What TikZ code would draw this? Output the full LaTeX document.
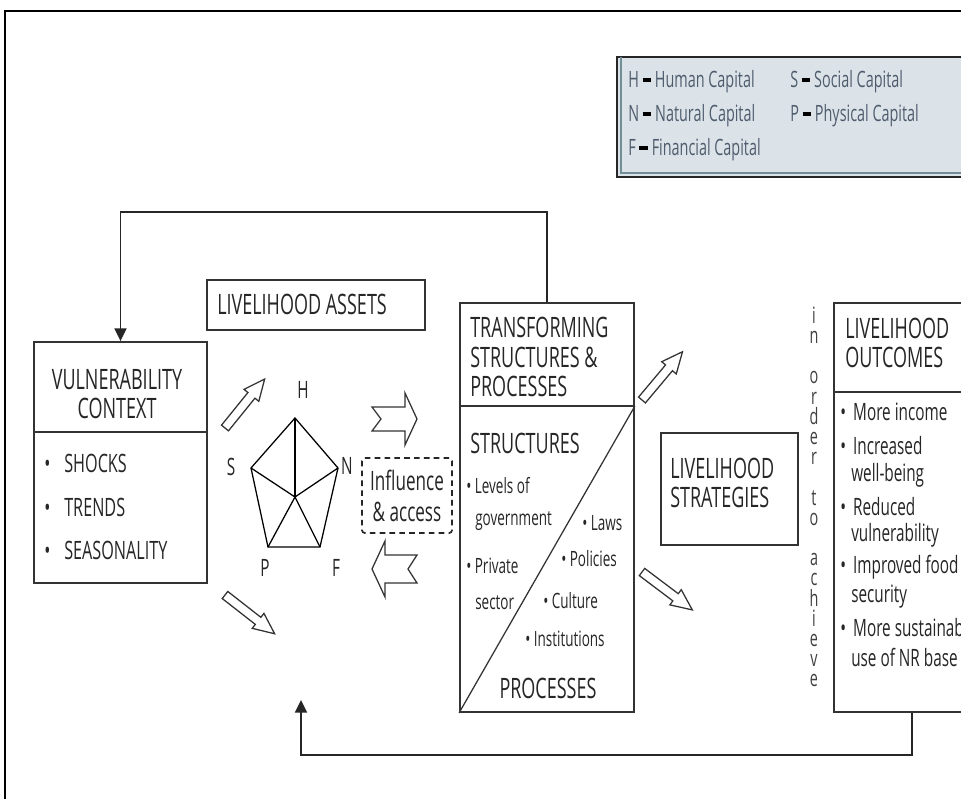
\documentclass[tikz,border=0pt]{standalone}
\usepackage{fontspec}
\setmainfont{Open Sans}[FakeStretch=0.64]
\usetikzlibrary{arrows.meta,fit}

\definecolor{keyfill}{HTML}{DCE3E8}
\definecolor{keyink}{HTML}{4E5C6E}
\definecolor{keyedge}{HTML}{6F8E95}
\newcommand{\eqbar}{\textcolor{black}{\rule[0.26em]{0.38em}{0.17em}}}

\begin{document}
\begin{tikzpicture}[
  x=0.025cm, y=-0.025cm,
  box/.style={draw=black!80, line width=1.3pt, inner sep=0pt},
  feed/.style={line width=1.2pt, draw=black!85},
  title/.style={font=\fontsize{20}{20.5}\selectfont, text=black!85, inner sep=0pt, align=left},
  bigtxt/.style={font=\fontsize{18}{21}\selectfont, text=black!85, inner sep=0pt, anchor=west},
  smalltxt/.style={font=\fontsize{15}{18}\selectfont, text=black!85, inner sep=0pt, anchor=west},
  outtxt/.style={font=\fontsize{17}{20}\selectfont, text=black!85, inner sep=0pt, anchor=west},
  keytxt/.style={font=\fontsize{16}{18}\selectfont, text=keyink, inner sep=0pt, anchor=west},
  vertex/.style={font=\fontsize{17}{20}\selectfont, text=black!85, inner sep=0pt},
  hollow/.style={draw=black!80, line width=0.9pt, fill=white, line join=miter},
]
\clip (0,0) rectangle (961,799);
\fill[white] (0,0) rectangle (961,799);

% Frame
\draw[line width=1.4pt] (5,830) -- (5,11) -- (990,11);

% Key
\draw[fill=keyfill, line width=1.6pt, draw=black!85] (617,57) rectangle (1000,177);
\draw[keyedge, line width=0.8pt] (621,57) -- (621,173) -- (1000,173);
\node[keytxt] (keyh) at (628,82) {H \eqbar{} Human Capital};
\node[keytxt] (keys) at (790,82) {S \eqbar{} Social Capital};
\node[keytxt] (keyn) at (628,116) {N \eqbar{} Natural Capital};
\node[keytxt] (keyp) at (790,116) {P \eqbar{} Physical Capital};
\node[keytxt] (keyf) at (628,150) {F \eqbar{} Financial Capital};

% Vulnerability context
\node[box, fit={(34,342) (207,583)}] (vul) {};
\draw[box] (vul.west |- 0,432) -- (vul.east |- 0,432);
\node[title, align=center] (vultitle) at (117,394) {VULNERABILITY\\CONTEXT};
\foreach \y/\t in {463/SHOCKS, 507/TRENDS, 550/SEASONALITY}
  \node[bigtxt] (vul-\y) at (44,\y) {\textbullet\hspace{0.55em}\t};

% Livelihood assets
\node[box, fit={(207,280) (425,330)}] (assets) {};
\node[title, anchor=west] (assetstitle) at (217,304) {LIVELIHOOD ASSETS};

\coordinate (pc) at (295,497);
\coordinate (ph) at (295,418);
\coordinate (pn) at (338,468);
\coordinate (pf) at (320,547);
\coordinate (pp) at (268,547);
\coordinate (ps) at (251,468);
\draw[line width=0.9pt, line join=miter] (ph) -- (pn) -- (pf) -- (pp) -- (ps) -- cycle;
\foreach \v in {ph,pn,pf,pp,ps}
  \draw[line width=0.9pt] (pc) -- (\v);
\node[vertex] (labh) at (303,390) {H};
\node[vertex] (labs) at (231,467) {S};
\node[vertex] (labn) at (347,466) {N};
\node[vertex] (labp) at (265,568) {P};
\node[vertex] (labf) at (336,568) {F};

% Hollow arrows
\foreach \x/\y/\a in {225/428/51, 225/595/-38, 642/400/50, 642/572/-37}
  \draw[hollow, shift={(\x,\y)}, rotate=\a]
    (0,-4.5) -- (42,-4.5) -- (42,-9.5) -- (63,0) -- (42,9.5) -- (42,4.5) -- (0,4.5) -- cycle;
\draw[hollow] (372,407) -- (405,407) -- (405,393) -- (417,419) -- (405,445)
  -- (405,431) -- (372,431) -- (381,419) -- cycle;
\draw[hollow] (372,569) -- (385,541) -- (385,555) -- (417,555) -- (408,569)
  -- (417,583) -- (385,583) -- (385,597) -- cycle;

\node[draw=black!85, dashed, dash pattern=on 4pt off 3pt, line width=1.2pt,
  rounded corners=2pt, fit={(362,458) (452,533)}, inner sep=0pt] (infl) {};
\node[title, font=\fontsize{19}{22}\selectfont, align=center] (infltxt)
  at (infl.center) {Influence\\\& access};

% Transforming structures and processes
\node[box, fit={(460,303) (634,712)}] (trans) {};
\draw[box] (trans.west |- 0,406) -- (trans.east |- 0,406);
\draw[line width=0.9pt, draw=black!80] (trans.east |- 0,406) -- (trans.south west);
\node[title, anchor=west, font=\fontsize{20}{21}\selectfont] (transtitle)
  at (470,357) {TRANSFORMING\\STRUCTURES \&\\PROCESSES};
\node[title, anchor=west] (structs) at (470,443) {STRUCTURES};
\node[smalltxt] (lev) at (466,486) {\textbullet\,Levels of};
\node[smalltxt] (gov) at (475,521) {government};
\node[smalltxt] (priv) at (466,566) {\textbullet\,Private};
\node[smalltxt] (sect) at (475,603) {sector};
\node[smalltxt] (laws) at (582,523) {\textbullet\,Laws};
\node[smalltxt] (pol) at (561,559) {\textbullet\,Policies};
\node[smalltxt] (cult) at (543,601) {\textbullet\,Culture};
\node[smalltxt] (inst) at (525,639) {\textbullet\,Institutions};
\node[title] (procs) at (548,688) {PROCESSES};

% Livelihood strategies
\node[box, fit={(661,433) (798,545)}] (strat) {};
\node[title, anchor=west] (strattitle) at (670,483) {LIVELIHOOD\\STRATEGIES};

\node[vertex, align=center, font=\fontsize{16}{14.36}\selectfont, text=black!75]
  (inorder) at (814,497)
  {i\\n\\\mbox{}\\o\\r\\d\\e\\r\\\mbox{}\\t\\o\\\mbox{}\\a\\c\\h\\i\\e\\v\\e};

% Livelihood outcomes
\node[box, fit={(834,303) (990,712)}] (outc) {};
\draw[box] (outc.west |- 0,392) -- (outc.east |- 0,392);
\node[title, anchor=west] (outctitle) at (845,343) {LIVELIHOOD\\OUTCOMES};
\foreach \y/\t in {412/More income, 446/Increased, 507/Reduced,
                   567/Improved food, 628/More sustainable}
  \node[outtxt] (out-\y) at (840,\y) {\textbullet\hspace{0.3em}\t};
\foreach \y/\t in {475/well-being, 535/vulnerability, 597/security, 657/use of NR base}
  \node[outtxt] (out-\y) at (851,\y) {\t};

% Feedback
\draw[feed, -{Triangle[length=9pt, width=8.5pt]}]
  (trans.north) -- (trans.north |- 0,212) -| (vul.north);
\coordinate (assetsin) at (301,700);
\draw[feed, -{Triangle[length=9pt, width=8.5pt]}]
  (outc.south) -- (outc.south |- 0,755) -| (assetsin);

\end{tikzpicture}
\end{document}
